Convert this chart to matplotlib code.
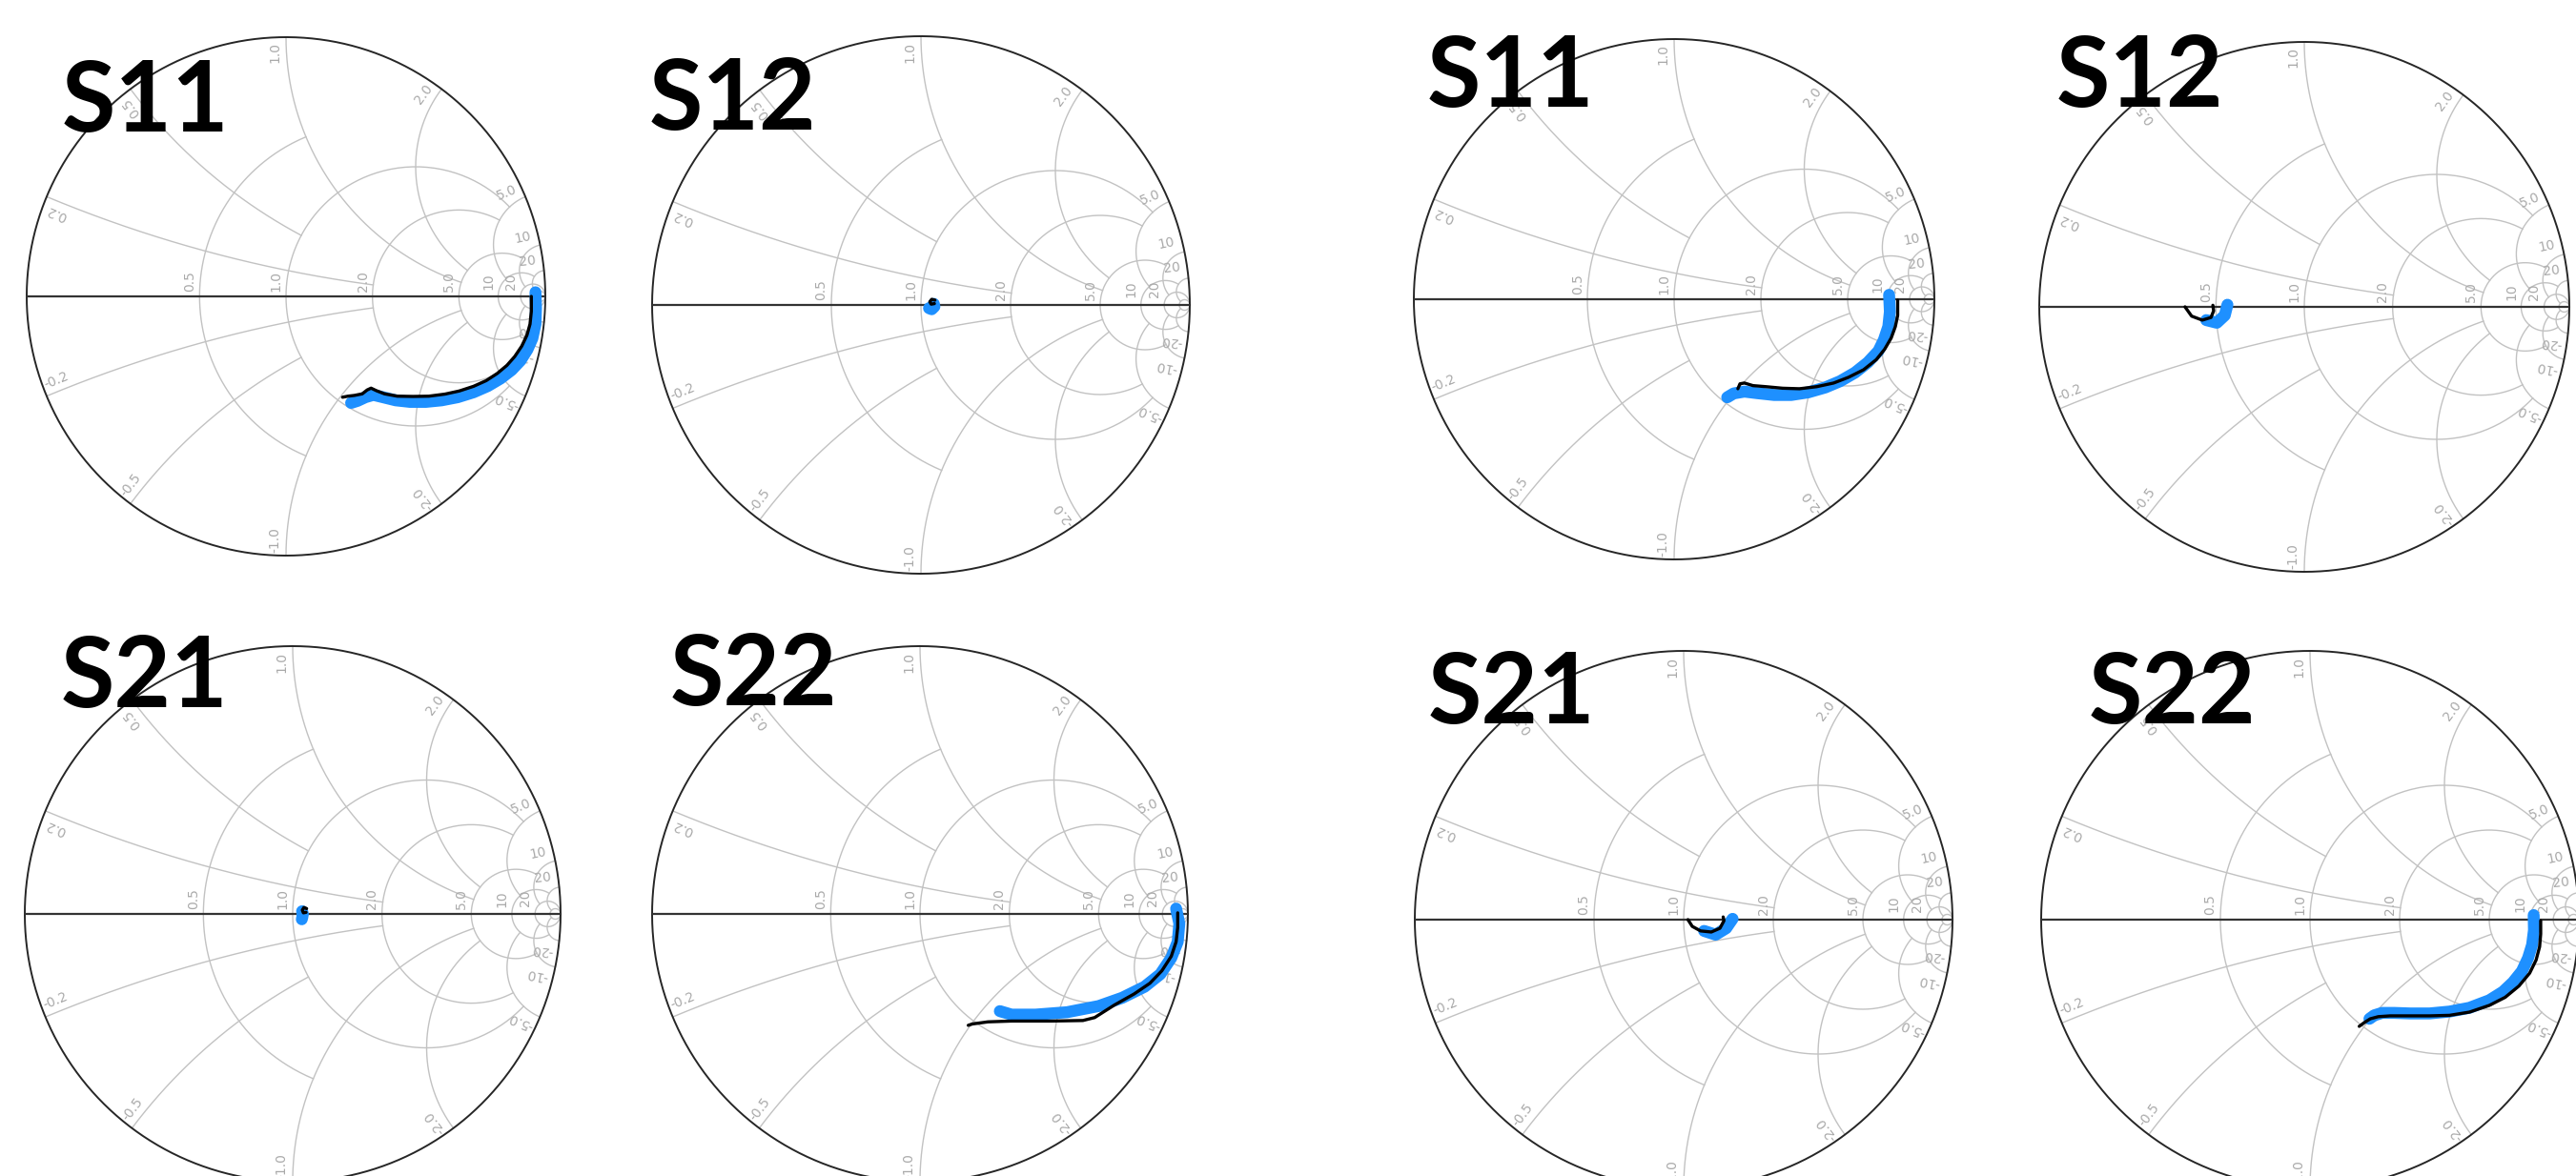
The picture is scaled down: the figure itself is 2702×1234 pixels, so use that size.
import numpy as np
import matplotlib
matplotlib.use("Agg")
import matplotlib.pyplot as plt

W, H = 2702, 1234
DPI = 100

BLUE = "#1e90ff"
GRID = "#c2c2c2"
LABEL = "#aaaaaa"

# smith grid: resistance circles (value, max |x|) and reactance arcs (value, max r)
res_values = [0.5, 1.0, 2.0, 5.0, 10.0, 20.0, 50.0]
res_xmax = [1.0, 5.0, 5.0, 10.0, 20.0, np.inf, np.inf]
react_values = [0.2, 0.5, 1.0, 2.0, 5.0, 10.0, 20.0]
react_rmax = [2.0, 1.0, 5.0, 5.0, 10.0, 20.0, 50.0]
res_labels = ["0.5", "1.0", "2.0", "5.0", "10", "20"]
react_labels = ["0.2", "0.5", "1.0", "2.0", "5.0", "10", "20"]

titles = ["S11", "S12", "S21", "S22", "S11", "S12", "S21", "S22"]

# reflection coefficients read off the charts (real, imag)
# left group
s11_a_blue_re = [0.962, 0.964, 0.962, 0.950, 0.931, 0.904, 0.870, 0.827, 0.778, 0.723, 0.662, 0.600,
                 0.539, 0.478, 0.423, 0.374, 0.337, 0.306, 0.276, 0.251]
s11_a_blue_im = [0.016, -0.045, -0.107, -0.162, -0.205, -0.248, -0.284, -0.317, -0.346, -0.370, -0.389, -0.401,
                 -0.407, -0.407, -0.401, -0.389, -0.380, -0.389, -0.403, -0.411]
s11_a_black_re = [0.946, 0.946, 0.941, 0.929, 0.909, 0.882, 0.852, 0.815, 0.772, 0.723, 0.668, 0.613, 0.551,
                  0.490, 0.429, 0.380, 0.349, 0.328, 0.313, 0.294, 0.264, 0.239, 0.218]
s11_a_black_im = [0.000, -0.058, -0.107, -0.150, -0.192, -0.232, -0.266, -0.297, -0.325, -0.347, -0.365, -0.377,
                  -0.385, -0.386, -0.385, -0.376, -0.364, -0.354, -0.361, -0.376, -0.382, -0.385, -0.389]

s12_a_blue_re = [0.030, 0.040, 0.050, 0.048]
s12_a_blue_im = [-0.012, -0.016, -0.006, 0.004]
s12_a_black_re = [0.052, 0.040, 0.033, 0.038, 0.050]
s12_a_black_im = [0.018, 0.021, 0.012, 0.003, 0.005]

s21_a_blue_re = [0.034, 0.036, 0.038, 0.035]
s21_a_blue_im = [-0.020, -0.012, 0.000, 0.010]
s21_a_black_re = [0.052, 0.042, 0.036, 0.040, 0.050]
s21_a_black_im = [0.020, 0.024, 0.014, 0.004, 0.006]

s22_a_blue_re = [0.956, 0.968, 0.962, 0.938, 0.897, 0.838, 0.755, 0.667, 0.549, 0.431, 0.342, 0.298]
s22_a_blue_im = [0.020, -0.036, -0.104, -0.164, -0.225, -0.272, -0.313, -0.344, -0.367, -0.376, -0.376, -0.363]
s22_a_black_re = [0.962, 0.962, 0.956, 0.938, 0.903, 0.858, 0.799, 0.726, 0.652, 0.608, 0.490, 0.342,
                  0.254, 0.195, 0.180]
s22_a_black_im = [0.004, -0.050, -0.104, -0.158, -0.212, -0.259, -0.299, -0.340, -0.387, -0.398, -0.400, -0.400,
                  -0.403, -0.411, -0.416]

# right group
s11_b_blue_re = [0.826, 0.829, 0.823, 0.806, 0.785, 0.744, 0.695, 0.638, 0.581, 0.515, 0.450, 0.384,
                 0.319, 0.270, 0.229, 0.204]
s11_b_blue_im = [0.017, -0.048, -0.105, -0.156, -0.199, -0.243, -0.282, -0.315, -0.339, -0.358, -0.368, -0.368,
                 -0.361, -0.355, -0.362, -0.377]
s11_b_black_re = [0.859, 0.859, 0.850, 0.834, 0.809, 0.777, 0.728, 0.670, 0.613, 0.548, 0.482, 0.417,
                  0.352, 0.303, 0.270, 0.253, 0.245]
s11_b_black_im = [-0.004, -0.062, -0.105, -0.149, -0.192, -0.232, -0.271, -0.300, -0.322, -0.336, -0.344, -0.342,
                  -0.336, -0.332, -0.322, -0.325, -0.344]

s12_b_blue_re = [-0.370, -0.330, -0.300, -0.290]
s12_b_blue_im = [-0.050, -0.060, -0.032, 0.008]
s12_b_black_re = [-0.450, -0.425, -0.385, -0.352, -0.342, -0.345]
s12_b_black_im = [0.000, -0.035, -0.050, -0.040, -0.015, 0.006]

s21_b_blue_re = [0.076, 0.119, 0.158, 0.182]
s21_b_blue_im = [-0.042, -0.056, -0.032, 0.003]
s21_b_black_re = [0.016, 0.032, 0.063, 0.103, 0.135, 0.150, 0.147]
s21_b_black_im = [0.000, -0.025, -0.042, -0.046, -0.032, -0.004, 0.010]

s22_b_blue_re = [0.832, 0.833, 0.826, 0.811, 0.788, 0.755, 0.718, 0.667, 0.593, 0.519, 0.445, 0.372,
                 0.313, 0.268, 0.239, 0.221]
s22_b_blue_im = [0.017, -0.039, -0.094, -0.143, -0.192, -0.233, -0.268, -0.300, -0.328, -0.342, -0.349, -0.349,
                 -0.347, -0.347, -0.356, -0.369]
s22_b_black_re = [0.858, 0.858, 0.854, 0.841, 0.817, 0.777, 0.726, 0.667, 0.593, 0.519, 0.445, 0.372,
                  0.298, 0.254, 0.224, 0.202, 0.183]
s22_b_black_im = [-0.004, -0.053, -0.101, -0.150, -0.199, -0.247, -0.289, -0.319, -0.344, -0.356, -0.358, -0.358,
                  -0.358, -0.361, -0.369, -0.383, -0.397]

traces = [
    (s11_a_blue_re, s11_a_blue_im, s11_a_black_re, s11_a_black_im),
    (s12_a_blue_re, s12_a_blue_im, s12_a_black_re, s12_a_black_im),
    (s21_a_blue_re, s21_a_blue_im, s21_a_black_re, s21_a_black_im),
    (s22_a_blue_re, s22_a_blue_im, s22_a_black_re, s22_a_black_im),
    (s11_b_blue_re, s11_b_blue_im, s11_b_black_re, s11_b_black_im),
    (s12_b_blue_re, s12_b_blue_im, s12_b_black_re, s12_b_black_im),
    (s21_b_blue_re, s21_b_blue_im, s21_b_black_re, s21_b_black_im),
    (s22_b_blue_re, s22_b_blue_im, s22_b_black_re, s22_b_black_im),
]

# layout in pixels: chart centre, radius, title left/baseline
charts = [
    (300, 311, 272, 65, 138),
    (966, 320, 282, 681, 136),
    (307, 959, 281, 64, 742),
    (965, 959, 281, 703, 740),
    (1756, 314, 273, 1497, 112),
    (2417, 322, 278, 2157, 112),
    (1766, 965, 282, 1498, 759),
    (2423, 965, 282, 2191, 759),
]


def gamma(z):
    return (z - 1) / (z + 1)


def smith_grid(ax):
    for r, xm in zip(res_values, res_xmax):
        top = np.log10(min(xm, 1e4))
        x = np.concatenate([-np.logspace(top, -3, 300), [0], np.logspace(-3, top, 300)])
        g = gamma(r + 1j * x)
        ax.plot(g.real, g.imag, color=GRID, lw=1.0, zorder=1)
    for xv, rm in zip(react_values, react_rmax):
        r = np.concatenate([[0], np.logspace(-3, np.log10(min(rm, 1e4)), 400)])
        for s in (1, -1):
            g = gamma(r + 1j * s * xv)
            ax.plot(g.real, g.imag, color=GRID, lw=1.0, zorder=1)
    # outer circle and real axis
    g = gamma(1j * np.tan(np.linspace(-np.pi / 2 + 1e-4, np.pi / 2 - 1e-4, 800)))
    ax.plot(g.real, g.imag, color="#262626", lw=1.4, zorder=2, clip_on=False)
    ax.plot([-1, 1], [0, 0], color="#333333", lw=1.6, zorder=2)

    for r, lab in zip(res_values, res_labels):
        gx = gamma(r)
        ax.text(gx - 0.037, 0.058, lab, rotation=90, ha="center", va="center",
                fontsize=10, color=LABEL)
    for xv, lab in zip(react_values, react_labels):
        phi = np.angle(gamma(1j * xv))
        d = 0.045
        rad = 0.942
        ax.text(rad * np.cos(phi + d), rad * np.sin(phi + d), lab, rotation=np.degrees(phi),
                rotation_mode="anchor", ha="center", va="center", fontsize=10, color=LABEL)
        ax.text(rad * np.cos(-phi - d), rad * np.sin(-phi - d), "-" + lab, rotation=180 - np.degrees(phi),
                rotation_mode="anchor", ha="center", va="center", fontsize=10, color=LABEL)


fig = plt.figure(figsize=(W / DPI, H / DPI), dpi=DPI)
fig.patch.set_facecolor("white")

for (cx, cy, R, tx, ty), title, (bre, bim, kre, kim) in zip(charts, titles, traces):
    ax = fig.add_axes([(cx - R) / W, (H - cy - R) / H, 2 * R / W, 2 * R / H])
    ax.set_xlim(-1, 1)
    ax.set_ylim(-1, 1)
    ax.axis("off")
    smith_grid(ax)
    ax.plot(bre, bim, color=BLUE, lw=9, solid_capstyle="round", solid_joinstyle="round", zorder=3)
    ax.plot(kre, kim, color="black", lw=2.4, solid_capstyle="round", solid_joinstyle="round", zorder=4)
    fig.text(tx / W, 1 - ty / H, title, fontsize=74, fontweight="bold", family="Lato",
             ha="left", va="baseline", color="black", zorder=10)

fig.savefig("out.png", dpi=DPI, facecolor="white")
